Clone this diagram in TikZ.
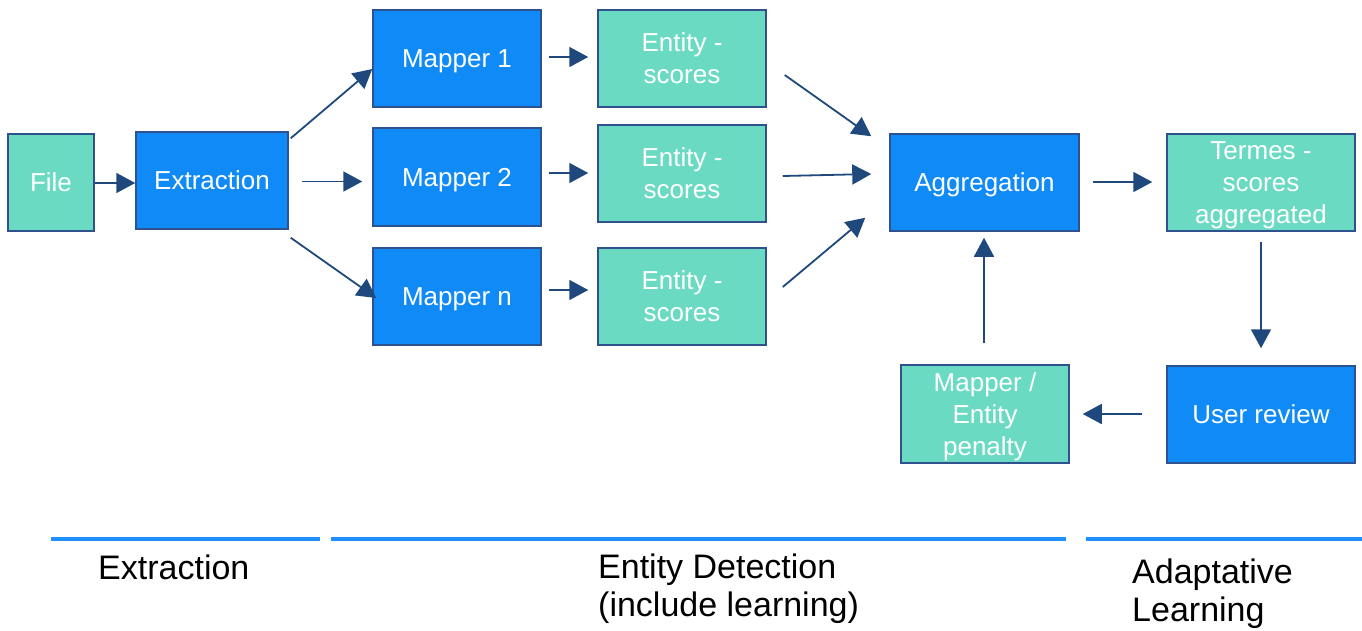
\documentclass[tikz,border=0pt]{standalone}
\usepackage{fontspec}
\setmainfont{Liberation Sans}
\usetikzlibrary{arrows.meta,calc}
\definecolor{boxblue}{RGB}{16,138,246}
\definecolor{boxteal}{RGB}{106,219,194}
\definecolor{boxline}{RGB}{47,82,143}
\definecolor{arrowc}{RGB}{31,73,125}
\definecolor{barblue}{RGB}{30,144,255}
\newcommand{\nodesc}[1]{\raisebox{0pt}[\height][0pt]{#1}}
\tikzset{
  basebox/.style={draw=boxline, line width=1.5pt, text=white, align=center, inner sep=0pt,
    font=\fontsize{26}{32}\selectfont},
  bluebox/.style={basebox, fill=boxblue},
  tealbox/.style={basebox, fill=boxteal},
  conn/.style={draw=arrowc, line width=1.8pt, -{Triangle[length=19pt,width=20pt]}},
  bar/.style={draw=barblue, line width=4pt},
  phase/.style={anchor=base west, align=left, inner sep=0pt, text=black,
    font=\fontsize{34}{38}\selectfont}
}
\begin{document}
\begin{tikzpicture}[x=1pt,y=-1pt]
\useasboundingbox (0,0) rectangle (1362,630);
\fill[white] (0,0) rectangle (1362,630);

% nodes
\node[tealbox, minimum width=86pt, minimum height=97pt] (file) at (51,182.5) {File};
\node[bluebox, minimum width=152pt, minimum height=97pt] (extr) at (212,180.5) {Extraction};
\node[bluebox, minimum width=168pt, minimum height=97pt] (m1) at (457,58.5) {\nodesc{Mapper 1}};
\node[bluebox, minimum width=168pt, minimum height=98pt] (m2) at (457,177) {\nodesc{Mapper 2}};
\node[bluebox, minimum width=168pt, minimum height=97pt] (mn) at (457,296.5) {\nodesc{Mapper n}};
\node[tealbox, minimum width=168pt, minimum height=97pt] (e1) at (682,58.5) {Entity -\\scores};
\node[tealbox, minimum width=168pt, minimum height=97pt] (e2) at (682,173.5) {Entity -\\scores};
\node[tealbox, minimum width=168pt, minimum height=97pt] (e3) at (682,296.5) {Entity -\\scores};
\node[bluebox, minimum width=189pt, minimum height=97pt] (agg) at (984.5,182.5) {\nodesc{Aggregation}};
\node[tealbox, minimum width=188pt, minimum height=97pt] (term) at (1261,182.5) {Termes -\\scores\\\nodesc{aggregated}};
\node[bluebox, minimum width=188pt, minimum height=97pt] (ur) at (1261,414.5) {User review};
\node[tealbox, minimum width=168pt, minimum height=98pt] (pen) at (985,414) {Mapper /\\Entity\\\nodesc{penalty}};

% connectors
\draw[conn] ($(file.east)+(0,0.5)$) -- ($(extr.west)+(0,2.5)$);
\draw[conn] ($(extr.north east)+(2,7)$) -- ($(m1.west)+(0,10.5)$);
\draw[conn] ($(extr.east)+(13,1)$) -- ($(m2.west)+(-10,4.5)$);
\draw[conn] ($(extr.south east)+(2,8)$) -- ($(mn.west)+(4,1.5)$);
\draw[conn] ($(m1.east)+(7,-1.5)$) -- ($(e1.west)+(-9,-1.5)$);
\draw[conn] ($(m2.east)+(7,-4)$) -- ($(e2.west)+(-9,-0.5)$);
\draw[conn] ($(mn.east)+(7,-6.5)$) -- ($(e3.west)+(-9,-6.5)$);
\draw[conn] ($(e1.east)+(18,16.5)$) -- ($(agg.north west)+(-18,3)$);
\draw[conn] ($(e2.east)+(16,2.5)$) -- ($(agg.west)+(-18,-8.5)$);
\draw[conn] ($(e3.east)+(16,-9.5)$) -- ($(agg.south west)+(-24,-14)$);
\draw[conn] ($(agg.east)+(13,-0.5)$) -- ($(term.west)+(-14,-0.5)$);
\draw[conn] ($(term.south)+(0,10)$) -- ($(ur.north)+(0,-17)$);
\draw[conn] ($(ur.west)+(-24,-0.5)$) -- ($(pen.east)+(13,0)$);
\draw[conn] ($(pen.north)+(-1,-21)$) -- ($(agg.south)+(-0.5,6)$);

% phase bars
\draw[bar] (51,539) -- (320,539);
\draw[bar] (331,539) -- (1066,539);
\draw[bar] (1086,539) -- (1362,539);

% phase labels (anchored at the baseline of the last line)
\node[phase] (lab1) at (98,579) {Extraction};
\node[phase] (lab2) at (598,616) {Entity Detection\\(include learning)};
\node[phase] (lab3) at (1132,621) {Adaptative\\Learning};
\end{tikzpicture}
\end{document}
